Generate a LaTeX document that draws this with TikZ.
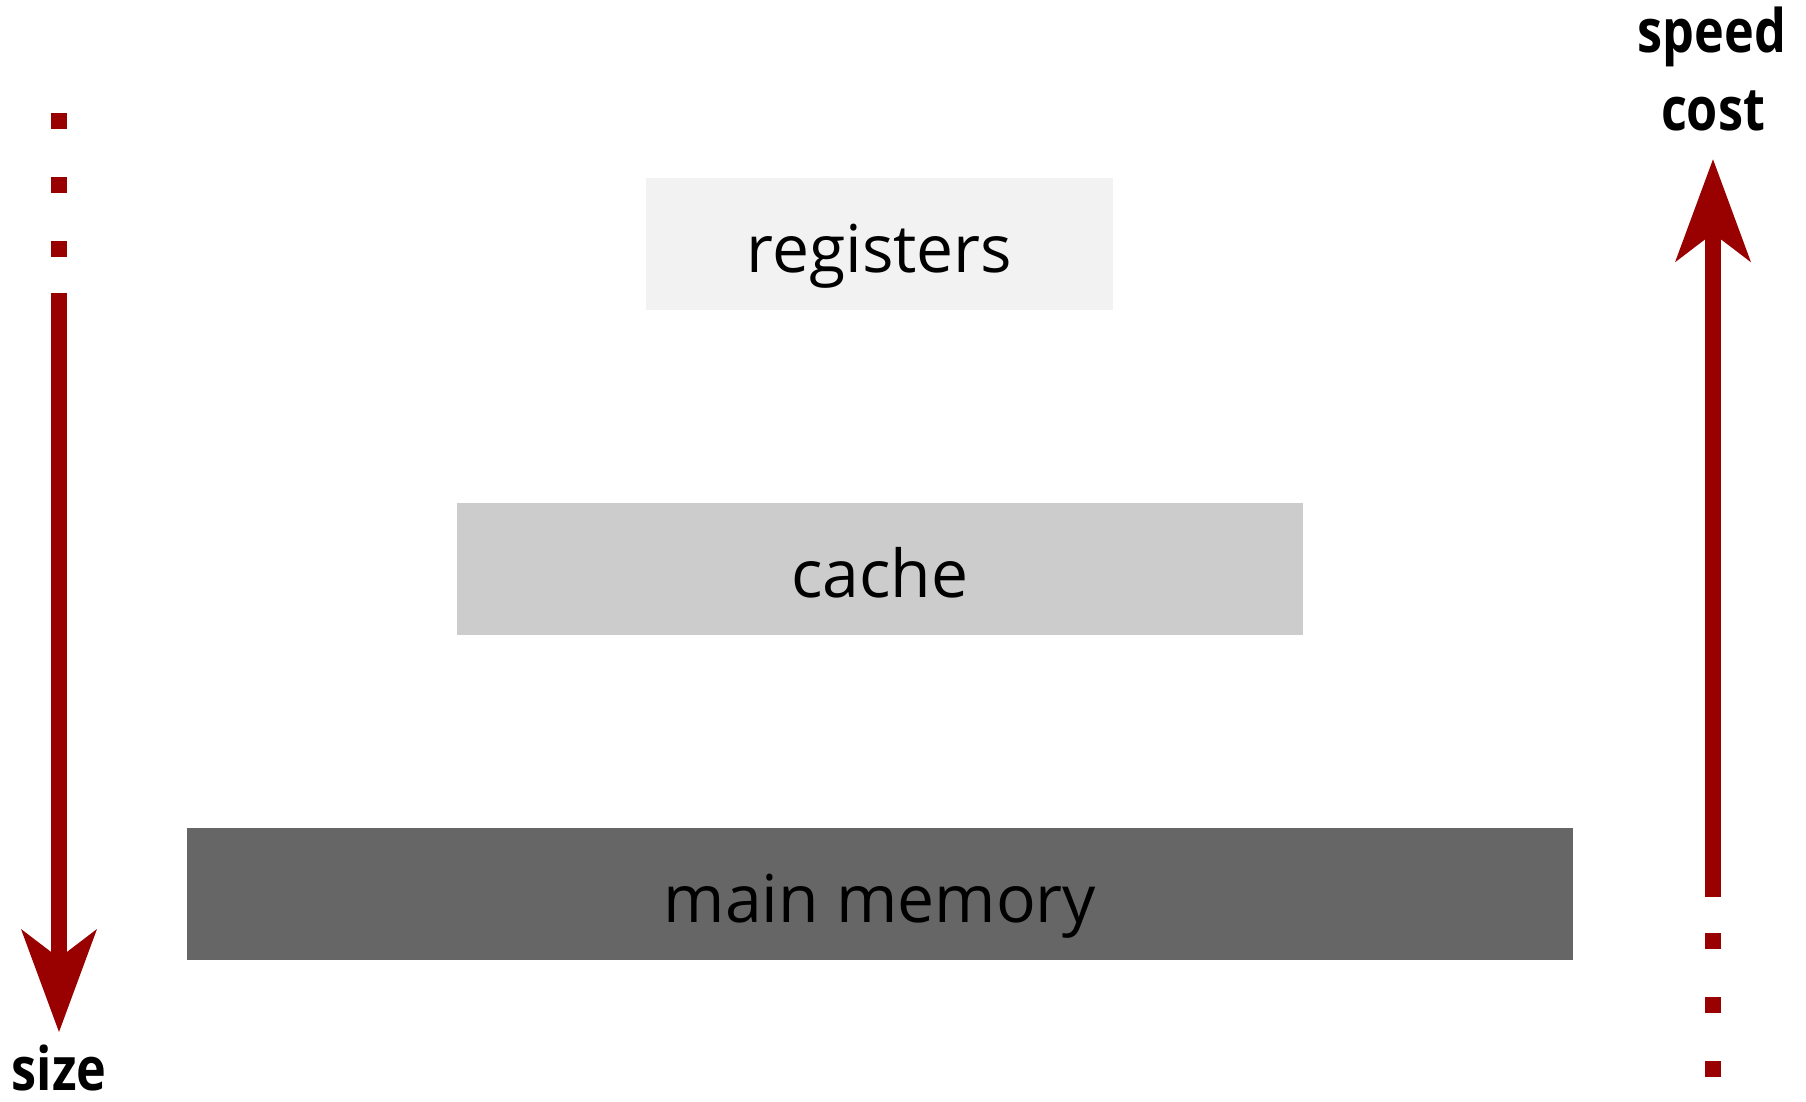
\documentclass[tikz,border=0pt]{standalone}
\usepackage{fontspec}
\setmainfont{Open Sans}
\newfontfamily\tagfont{Open Sans}[FakeStretch=0.84]
\usetikzlibrary{arrows.meta}
\definecolor{axisred}{HTML}{990000}
\definecolor{regfill}{HTML}{F2F2F2}
\definecolor{cachefill}{HTML}{CCCCCC}
\definecolor{memfill}{HTML}{666666}
\begin{document}
\begin{tikzpicture}[x=1pt, y=-1pt,
  tier/.style={inner sep=0pt, minimum height=131.5pt, text height=57.4pt,
    text depth=0pt, text=black, font=\fontsize{66pt}{70pt}\selectfont},
  tagtext/.style={inner sep=0pt, anchor=base, text=black,
    font=\tagfont\bfseries\fontsize{60pt}{64pt}\selectfont},
  axisline/.style={draw=axisred, line width=16pt, line cap=butt},
  axistip/.style={-{Stealth[length=103pt, width=76pt, inset=29pt, line width=0pt]}},
  dotted tail/.style={axisline, dash pattern=on 16pt off 48pt}]
  \useasboundingbox (0,0) rectangle (1806,1102);

  % memory hierarchy levels
  \node[tier, fill=regfill, minimum width=467pt] (reg) at (879.5,244) {registers};
  \node[tier, fill=cachefill, minimum width=845.4pt] (cache) at (880,569) {cache};
  \node[tier, fill=memfill, minimum width=1386.8pt] (mem) at (880,893.8) {main memory};

  % left axis: size grows downwards
  \coordinate (sizeDotsA) at (59,113.3);
  \coordinate (sizeDotsB) at (59,257.3);
  \coordinate (sizeStart) at (59,293.3);
  \coordinate (sizeTip) at (59,1032);
  \draw[dotted tail] (sizeDotsA) -- (sizeDotsB);
  \draw[axisline, axistip] (sizeStart) -- (sizeTip);
  \node[tagtext] (size) at (59,1090) {size};

  % right axis: speed and cost grow upwards
  \coordinate (speedStart) at (1713,897);
  \coordinate (speedTip) at (1713,159.3);
  \coordinate (speedDotsA) at (1713,933);
  \coordinate (speedDotsB) at (1713,1077);
  \draw[dotted tail] (speedDotsA) -- (speedDotsB);
  \draw[axisline, axistip] (speedStart) -- (speedTip);
  \node[tagtext] (speed) at (1712,53) {speed};
  \node[tagtext] (cost) at (1713,131) {cost};
\end{tikzpicture}
\end{document}
